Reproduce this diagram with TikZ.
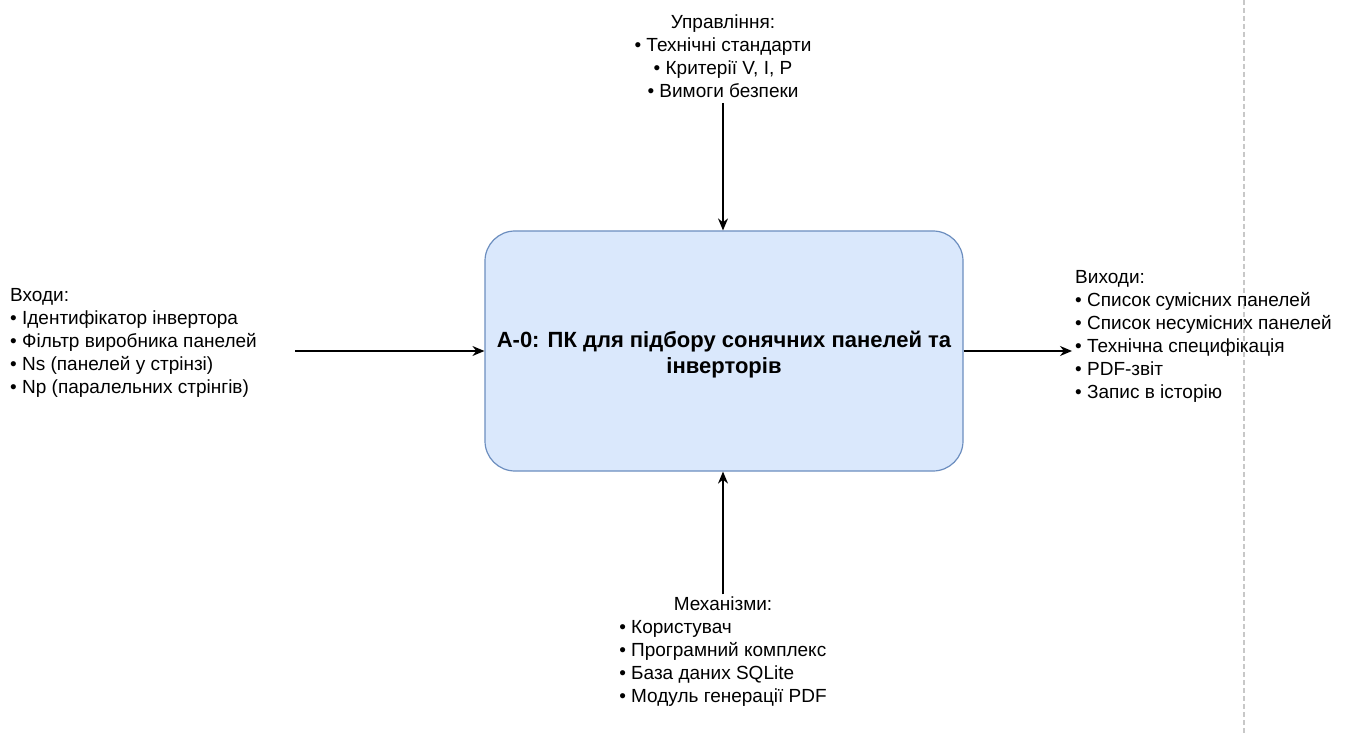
\documentclass[tikz,border=0pt]{standalone}
\usepackage{fontspec}
\setmainfont{Liberation Sans}
\usetikzlibrary{arrows.meta, positioning}

\definecolor{boxfill}{HTML}{DAE8FC}
\definecolor{boxline}{HTML}{6C8EBF}
\definecolor{pagebreak}{HTML}{C8C8C8}

\tikzset{
  funcbox/.style={draw=boxline, fill=boxfill, line width=1.2pt, rounded corners=30pt,
    minimum width=478pt, minimum height=240pt, align=center,
    font=\fontsize{22}{26.5}\selectfont\bfseries},
  listtext/.style={inner sep=0pt, font=\fontsize{19}{23}\selectfont},
  flow/.style={-{Stealth[length=12pt,width=10pt]}, line width=1.3pt},
}

\begin{document}
\begin{tikzpicture}[x=1pt,y=-1pt]
    \useasboundingbox (0,0) rectangle (1352,735);

    % page break
    \draw[pagebreak, line width=1.2pt, dash pattern=on 5pt off 3pt] (1244,0) -- (1244,735);

    % activity
    \node[funcbox] (box) at (724,351)
        {\raisebox{-4pt}[\height][\depth]{\begin{tabular}{@{}c@{}}А-0: ПК для підбору сонячних панелей та\\інверторів\end{tabular}}};

    % control
    \node[listtext, align=center] (ctrl) at (723,56.5)
        {Управління:\\• Технічні стандарти\\• Критерії V, I, P\\• Вимоги безпеки};

    % inputs
    \node[listtext, align=left, anchor=west] (inp) at (10,343)
        {Входи:\\• Ідентифікатор інвертора\\• Фільтр виробника панелей\\• Ns (панелей у стрінзі)\\• Np (паралельних стрінгів)};
    \coordinate (inend) at (295,351);

    % outputs
    \node[listtext, align=left, anchor=west] (outp) at (1075,336)
        {Виходи:\\• Список сумісних панелей\\• Список несумісних панелей\\• Технічна специфікація\\• PDF-звіт\\• Запис в історію};
    \coordinate (outend) at (1072,351);

    % mechanisms
    \node[listtext] (mech) at (723,652)
        {\begin{tabular}{@{}l@{}}
            \multicolumn{1}{@{}c@{}}{Механізми:}\\
            • Користувач\\
            • Програмний комплекс\\
            • База даних SQLite\\
            • Модуль генерації PDF
        \end{tabular}};

    % arrows
    \draw[flow] (ctrl.south |- 0,103) -- (box.north -| ctrl.south);
    \draw[flow] (inend) -- (box.west |- inend);
    \draw[flow] (box.east |- outend) -- (outend);
    \draw[flow] (mech.north) -- (mech.north |- box.south);
\end{tikzpicture}
\end{document}
